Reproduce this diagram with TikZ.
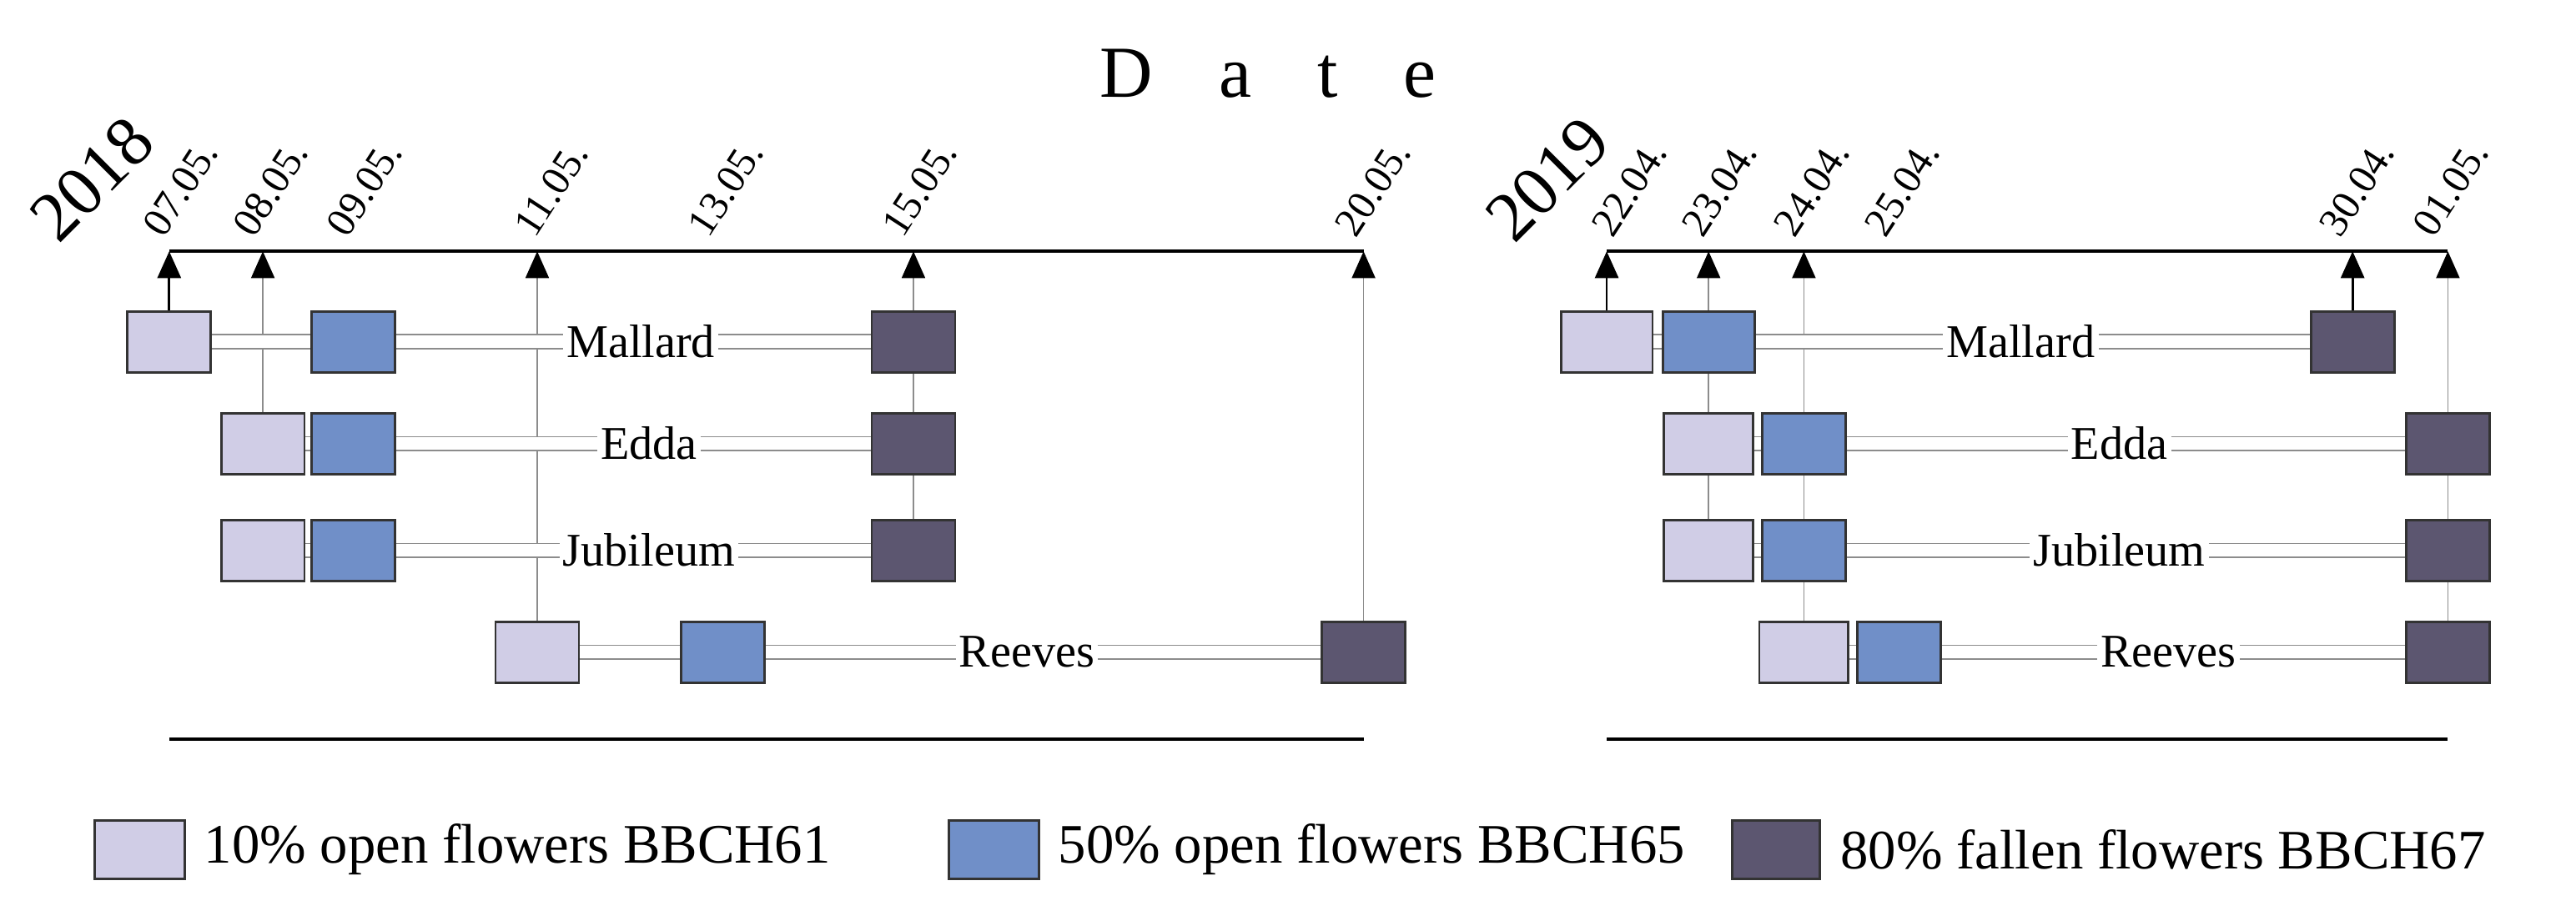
\documentclass[tikz,border=0pt]{standalone}
\usepackage{fontspec}
\setmainfont{Liberation Serif}
\usetikzlibrary{arrows.meta,backgrounds}

\definecolor{lightph}{HTML}{D0CDE6}
\definecolor{midph}{HTML}{708FC8}
\definecolor{darkph}{HTML}{5C5670}

\tikzset{
  stage/.style={draw=black!80, line width=0.8pt, minimum width=1.0cm, minimum height=0.73cm, inner sep=0pt},
  s61/.style={stage, fill=lightph},
  s65/.style={stage, fill=midph},
  s67/.style={stage, fill=darkph},
  bar/.style={draw=black!45, line width=0.5pt, double=white, double distance=4.2pt},
  cult/.style={inner sep=1pt, font=\fontsize{16}{16}\selectfont},
  date/.style={rotate=57, anchor=south west, inner sep=0pt, font=\fontsize{14}{14}\selectfont},
  yr/.style={rotate=45, anchor=south west, inner sep=0pt, font=\fontsize{24}{24}\selectfont},
  tick/.style={draw=black!45, line width=0.5pt, -{Triangle[black, length=3.2mm, width=2.8mm]}},
  axis/.style={line width=1.2pt}
}

\begin{document}
\begin{tikzpicture}[x=0.197mm, y=-0.197mm]
\useasboundingbox (0,0) rectangle (1568,554);

\node[font=\fontsize{25}{25}\selectfont] (title) at (772,45) {D\hspace{0.9em}a\hspace{0.9em}t\hspace{0.9em}e};

% 2018
\node[yr] (y18) at (36,150) {2018};
\foreach \x/\d in {100/07.05., 155/08.05., 212/09.05., 326/11.05., 432/13.05., 550/15.05., 826/20.05.}
  \node[date] at (\x,146) {\d};
\draw[axis] (103,153) coordinate (a1) -- (830,153) coordinate (a7);
\coordinate (a2) at (160,153);
\coordinate (a4) at (327,153);
\coordinate (a6) at (556,153);

\node[s61] (ma1) at (103,208) {};
\node[s65] (ma2) at (215,208) {};
\node[cult] (ma) at (390,208) {Mallard};
\node[s67] (ma3) at (556,208) {};
\node[s61] (ed1) at (160,270) {};
\node[s65] (ed2) at (215,270) {};
\node[cult] (ed) at (395,270) {Edda};
\node[s67] (ed3) at (556,270) {};
\node[s61] (ju1) at (160,335) {};
\node[s65] (ju2) at (215,335) {};
\node[cult] (ju) at (395,335) {Jubileum};
\node[s67] (ju3) at (556,335) {};
\node[s61] (re1) at (327,397) {};
\node[s65] (re2) at (440,397) {};
\node[cult] (re) at (625,397) {Reeves};
\node[s67] (re3) at (830,397) {};

\begin{scope}[on background layer]
\draw[tick, draw=black, line width=0.8pt] (ma1) -- (a1);
\draw[tick] (ed1) -- (a2);
\draw[tick] (re1) -- (a4);
\draw[tick] (ju3) -- (a6);
\draw[tick] (re3) -- (a7);
\foreach \r in {ma,ed,ju,re}{
  \draw[bar] (\r1.east) -- (\r2.west);
  \draw[bar] (\r2.east) -- (\r.west);
  \draw[bar] (\r.east) -- (\r3.west);
}
\end{scope}
\draw[line width=1pt] (103,450) coordinate (b1) -- (830,450) coordinate (b2);

% 2019
\node[yr] (y19) at (922,150) {2019};
\foreach \x/\d in {982/22.04., 1037/23.04., 1093/24.04., 1148/25.04., 1425/30.04., 1482/01.05.}
  \node[date] at (\x,146) {\d};
\draw[axis] (978,153) coordinate (c1) -- (1490,153) coordinate (c6);
\coordinate (c2) at (1040,153);
\coordinate (c3) at (1098,153);
\coordinate (c5) at (1432,153);

\node[s61, minimum width=1.1cm] (mb1) at (978,208) {};
\node[s65, minimum width=1.1cm] (mb2) at (1040,208) {};
\node[cult] (mb) at (1230,208) {Mallard};
\node[s67] (mb3) at (1432,208) {};
\node[s61, minimum width=1.07cm] (eb1) at (1040,270) {};
\node[s65] (eb2) at (1098,270) {};
\node[cult] (eb) at (1290,270) {Edda};
\node[s67] (eb3) at (1490,270) {};
\node[s61, minimum width=1.07cm] (jb1) at (1040,335) {};
\node[s65] (jb2) at (1098,335) {};
\node[cult] (jb) at (1290,335) {Jubileum};
\node[s67] (jb3) at (1490,335) {};
\node[s61, minimum width=1.07cm] (rb1) at (1098,397) {};
\node[s65] (rb2) at (1156,397) {};
\node[cult] (rb) at (1320,397) {Reeves};
\node[s67] (rb3) at (1490,397) {};

\begin{scope}[on background layer]
\draw[tick, draw=black, line width=0.8pt] (mb1) -- (c1);
\draw[tick] (jb1) -- (c2);
\draw[tick] (rb1) -- (c3);
\draw[tick, draw=black, line width=0.8pt] (mb3) -- (c5);
\draw[tick] (rb3) -- (c6);
\foreach \r in {mb,eb,jb,rb}{
  \draw[bar] (\r1.east) -- (\r2.west);
  \draw[bar] (\r2.east) -- (\r.west);
  \draw[bar] (\r.east) -- (\r3.west);
}
\end{scope}
\draw[line width=1pt] (978,450) coordinate (d1) -- (1490,450) coordinate (d2);

% legend
\node[s61, minimum width=1.08cm, minimum height=0.7cm] (k1) at (85,517) {};
\node[anchor=west, font=\fontsize{19}{19}\selectfont] (t1) at (118,517) {10\% open flowers BBCH61};
\node[s65, minimum width=1.08cm, minimum height=0.7cm] (k2) at (605,517) {};
\node[anchor=west, font=\fontsize{19}{19}\selectfont] (t2) at (638,517) {50\% open flowers BBCH65};
\node[s67, minimum width=1.05cm, minimum height=0.7cm] (k3) at (1081,517) {};
\node[anchor=west, font=\fontsize{19}{19}\selectfont] (t3) at (1114,517) {80\% fallen flowers BBCH67};
\end{tikzpicture}
\end{document}
